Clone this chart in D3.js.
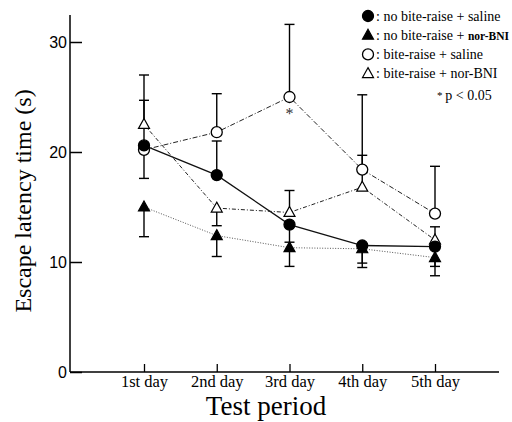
<!DOCTYPE html>
<html>
<head>
<meta charset="utf-8">
<script src="https://cdn.jsdelivr.net/npm/d3@7"></script>
<style>
  html, body { margin: 0; padding: 0; background: #fff; }
  svg { display: block; }
</style>
</head>
<body>
<div id="chart"></div>
<script>
// data (mean, signed error bar: + up, - down)
const days = ["1st day", "2nd day", "3rd day", "4th day", "5th day"];
const yTicks = [0, 10, 20, 30];

const noBiteSaline = [20.6, 17.9, 13.4, 11.5, 11.4];
const noBiteSalineErr = [4.1, 3.1, -1.6, -1.6, -1.8];

const noBiteNor = [15.0, 12.4, 11.3, 11.2, 10.4];
const noBiteNorErr = [-2.7, -1.9, -1.7, -1.7, -1.65];

const biteSaline = [20.2, 21.8, 25.0, 18.4, 14.4];
const biteSalineErr = [-2.6, 3.5, 6.6, 6.8, 4.3];

const biteNor = [22.5, 14.9, 14.5, 16.8, 12.0];
const biteNorErr = [4.5, -1.6, 2.0, 2.9, 1.2];

const significant = [{ day: 2, series: "biteSaline" }];

const width = 512, height = 422;
const serif = "'Liberation Serif', 'Times New Roman', serif";

const series = [
    { key: "noBiteSaline", values: noBiteSaline, err: noBiteSalineErr, shape: "circle", filled: true, dash: null, stroke: "#111", sw: 1.3 },
    { key: "noBiteNor", values: noBiteNor, err: noBiteNorErr, shape: "triangle", filled: true, dash: "1,1.6", stroke: "#555", sw: 1 },
    { key: "biteSaline", values: biteSaline, err: biteSalineErr, shape: "circle", filled: false, dash: "5,2,1,2", stroke: "#222", sw: 1 },
    { key: "biteNor", values: biteNor, err: biteNorErr, shape: "triangle", filled: false, dash: "4,2,1,2", stroke: "#222", sw: 1 }
];

const svg = d3.select("#chart").append("svg")
    .attr("width", width)
    .attr("height", height);

const x = d3.scaleLinear().domain([1, 5]).range([144, 435]);
const y = d3.scaleLinear().domain([0, 30]).range([372, 42]);
const axisLeftX = 70, axisRightX = 499;

// axes
svg.append("line")
    .attr("x1", axisLeftX).attr("x2", axisLeftX)
    .attr("y1", y(0)).attr("y2", y(32.45))
    .style("stroke", "#000").style("stroke-width", 1.5);
svg.append("line")
    .attr("x1", axisLeftX).attr("x2", axisRightX)
    .attr("y1", y(0)).attr("y2", y(0))
    .style("stroke", "#000").style("stroke-width", 1.5);

const yAxis = svg.append("g")
    .attr("transform", `translate(${axisLeftX},0)`)
    .call(d3.axisLeft(y).tickValues(yTicks).tickSize(-12).tickPadding(3).tickFormat(d3.format("d")));
yAxis.select(".domain").remove();
yAxis.selectAll("line").style("stroke", "#000").style("stroke-width", 1.5);
yAxis.selectAll("text")
    .style("font-family", "'Liberation Sans', Arial, sans-serif")
    .style("font-size", "16px")
    .attr("fill", "#000");

const xAxis = svg.append("g")
    .attr("transform", `translate(0,${y(0)})`)
    .call(d3.axisBottom(x).tickValues([1, 2, 3, 4, 5]).tickSize(-8).tickPadding(6).tickFormat((d, i) => days[i]));
xAxis.select(".domain").remove();
xAxis.selectAll("line").style("stroke", "#000").style("stroke-width", 1.3);
xAxis.selectAll("text")
    .attr("y", 15)
    .attr("dy", null)
    .style("font-family", serif)
    .style("font-size", "16.5px")
    .attr("fill", "#000");

// axis titles
svg.append("text")
    .attr("x", 266).attr("y", 415)
    .attr("text-anchor", "middle")
    .style("font-family", serif)
    .style("font-size", "27px")
    .text("Test period");

svg.append("text")
    .attr("transform", "translate(31,201) rotate(-90)")
    .attr("text-anchor", "middle")
    .style("font-family", serif)
    .style("font-size", "24px")
    .text("Escape latency time (s)");

// lines
const line = d3.line().x((d, i) => x(i + 1)).y(d => y(d));
series.forEach(s => {
    svg.append("path")
        .datum(s.values)
        .attr("d", line)
        .style("fill", "none")
        .style("stroke", s.stroke)
        .style("stroke-width", s.sw)
        .style("stroke-dasharray", s.dash);
});

// error bars
const capW = 10;
series.forEach(s => {
    const g = svg.append("g");
    s.values.forEach((v, i) => {
        const e = s.err[i];
        const cx = x(i + 1);
        g.append("line")
            .attr("x1", cx).attr("x2", cx)
            .attr("y1", y(v)).attr("y2", y(v + e))
            .style("stroke", "#000").style("stroke-width", 1.4);
        g.append("line")
            .attr("x1", cx - capW / 2).attr("x2", cx + capW / 2)
            .attr("y1", y(v + e)).attr("y2", y(v + e))
            .style("stroke", "#000").style("stroke-width", 1.4);
    });
});

// markers
function drawMarker(g, shape, filled, cx, cy, size) {
    if (shape === "circle") {
        g.append("circle")
            .attr("cx", cx).attr("cy", cy).attr("r", size / 2)
            .style("fill", filled ? "#000" : "#fff")
            .style("stroke", "#000").style("stroke-width", 1.3);
    } else {
        const h = size * 0.9, w = size;
        g.append("path")
            .attr("d", `M${cx},${cy - h * 0.6}L${cx + w / 2},${cy + h * 0.4}L${cx - w / 2},${cy + h * 0.4}Z`)
            .style("fill", filled ? "#000" : "#fff")
            .style("stroke", "#000").style("stroke-width", 1.2);
    }
}

const markerOrder = ["noBiteNor", "biteNor", "biteSaline", "noBiteSaline"];
markerOrder.forEach(k => {
    const s = series.find(d => d.key === k);
    const g = svg.append("g");
    s.values.forEach((v, i) => drawMarker(g, s.shape, s.filled, x(i + 1), y(v), 11));
});

// significance
significant.forEach(d => {
    const s = series.find(q => q.key === d.series);
    svg.append("text")
        .attr("x", x(d.day + 1))
        .attr("y", y(s.values[d.day]) + 22)
        .attr("text-anchor", "middle")
        .style("font-family", serif)
        .style("font-size", "16px")
        .style("fill", "#333")
        .text("*");
});

// legend
const legendItems = [
    { key: "noBiteSaline", label: ": no bite-raise + ", drug: "saline", bold: false },
    { key: "noBiteNor", label: ": no bite-raise + ", drug: "nor-BNI", bold: true },
    { key: "biteSaline", label: ": bite-raise + ", drug: "saline", bold: false },
    { key: "biteNor", label: ": bite-raise + ", drug: "nor-BNI", bold: false }
];
const legend = svg.append("g");
legendItems.forEach((d, i) => {
    const s = series.find(q => q.key === d.key);
    const cy = 16 + i * 19.2;
    drawMarker(legend, s.shape, s.filled, 368, cy, 11);
    const t = legend.append("text")
        .attr("x", 376).attr("y", cy + 4.5)
        .style("font-family", serif)
        .style("font-size", "14px");
    t.append("tspan").text(d.label);
    t.append("tspan")
        .style("font-weight", d.bold ? "bold" : "normal")
        .style("font-size", d.bold ? "11.5px" : "14px")
        .text(d.drug);
});
const pText = legend.append("text")
    .attr("x", 437).attr("y", 100)
    .style("font-family", serif)
    .style("font-size", "14px");
pText.append("tspan").style("font-size", "11px").attr("dy", -1).text("* ");
pText.append("tspan").attr("dy", 1).text("p < 0.05");
</script>
</body>
</html>
